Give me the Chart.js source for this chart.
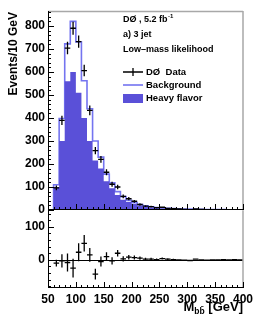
<!DOCTYPE html>
<html>
<head>
<meta charset="utf-8">
<script src="https://cdn.jsdelivr.net/npm/chart.js@4.4.1/dist/chart.umd.min.js"></script>
<style>
html, body { margin:0; padding:0; background:#fff; }
#wrap { position:relative; width:258px; height:327px; overflow:hidden; background:#fff; }
#top { position:absolute; left:0; top:0; }
#bot { position:absolute; left:0; top:200px; }
</style>
</head>
<body>
<div id="wrap">
<canvas id="top" width="258" height="226"></canvas>
<canvas id="bot" width="258" height="127"></canvas>
</div>
<script>
// bins of 10 GeV, centres
var binCenters = [55,65,75,85,95,105,115,125,135,145,155,165,175,185,195,205,215,225,235,245,255,265,275,285,295,305,315,325,335,345,355,365,375,385,395];
var background = [0,110,398,722,820,730,562,440,300,230,156,118,80,58,42,32,24,18,14,11,9,7,6,5,4,4,3,3,2,2,2,2,1,1,1];
var heavyFlavor = [0,100,300,560,600,510,400,300,215,180,125,95,65,45,35,26,20,15,11,9,7,6,5,4,3,3,2,2,2,1,1,1,1,1,1];
var dataCounts = [null,96,390,704,790,732,606,433,258,220,164,112,100,59,49,38,24,17,15,10,12,7,6,5,3,2,5,3,2,2,1,2,1,2,1];
var dataErrors = [0,10,20,27,28,27,25,21,16,15,13,11,10,8,7,6,5,4,4,3,3,3,2,2,2,1,2,2,1,1,1,1,1,1,1];
var residuals = [null,-10,-3,-8,-25,23,50,15,-43,-5,10,-3,20,3,8,7,5,2,2,1,4,2,1,0,-1,-2,2,0,-1,0,0,1,0,1,0];
var yTicksTop = [0,100,200,300,400,500,600,700,800];
var yTicksBottom = [0,100];
var xTicks = [50,100,150,200,250,300,350,400];
var binWidth = 10;

var fillColor = '#5a50d8';
var lineColor = '#7474f0';
var FONT = "'Liberation Sans', Arial, sans-serif";

function stepPoints(values) {
	var pts = [];
	for (var i = 0; i < binCenters.length; i++) {
		pts.push({x: binCenters[i] - binWidth / 2, y: values[i]});
	}
	var last = binCenters.length - 1;
	pts.push({x: binCenters[last] + binWidth / 2, y: values[last]});
	return pts;
}

function pointData(values) {
	var pts = [];
	for (var i = 0; i < binCenters.length; i++) {
		if (values[i] !== null) pts.push({x: binCenters[i], y: values[i]});
	}
	return pts;
}

function drawCrosses(chart, values, errors) {
	var ctx = chart.ctx, xs = chart.scales.x, ys = chart.scales.y, a = chart.chartArea;
	ctx.save();
	ctx.beginPath();
	ctx.rect(a.left, a.top, a.right - a.left, a.bottom - a.top);
	ctx.clip();
	ctx.strokeStyle = '#000';
	ctx.lineWidth = 1.3;
	for (var i = 0; i < binCenters.length; i++) {
		if (values[i] === null) continue;
		var x0 = xs.getPixelForValue(binCenters[i] - binWidth / 2);
		var x1 = xs.getPixelForValue(binCenters[i] + binWidth / 2);
		var xc = xs.getPixelForValue(binCenters[i]);
		var y = ys.getPixelForValue(values[i]);
		var ylo = ys.getPixelForValue(values[i] - errors[i]);
		var yhi = ys.getPixelForValue(values[i] + errors[i]);
		ctx.beginPath();
		ctx.moveTo(x0, y); ctx.lineTo(x1, y);
		ctx.moveTo(xc, ylo); ctx.lineTo(xc, yhi);
		ctx.stroke();
	}
	ctx.restore();
}

function drawFrame(chart, yMin, yMax, yMajor, drawTop) {
	var ctx = chart.ctx, xs = chart.scales.x, ys = chart.scales.y, a = chart.chartArea;
	ctx.save();
	// grey frame right (and top)
	ctx.strokeStyle = '#a8a8a8';
	ctx.lineWidth = 1.5;
	ctx.beginPath();
	ctx.moveTo(a.right, a.top); ctx.lineTo(a.right, a.bottom);
	if (drawTop) { ctx.moveTo(a.left, a.top + 0.5); ctx.lineTo(a.right, a.top + 0.5); }
	ctx.stroke();
	// black axes
	ctx.strokeStyle = '#000';
	ctx.lineWidth = 1;
	ctx.beginPath();
	ctx.moveTo(a.left + 0.5, a.top); ctx.lineTo(a.left + 0.5, a.bottom);
	ctx.moveTo(a.left, a.bottom - 0.5); ctx.lineTo(a.right, a.bottom - 0.5);
	// y ticks, inward
	for (var v = yMin; v <= yMax; v += 20) {
		var y = Math.round(ys.getPixelForValue(v)) + 0.5;
		var len = (yMajor.indexOf(v) >= 0) ? 6 : 3;
		ctx.moveTo(a.left, y); ctx.lineTo(a.left + len, y);
	}
	// x ticks, upward
	for (var xv = 50; xv <= 400; xv += 10) {
		var x = Math.round(xs.getPixelForValue(xv)) + 0.5;
		var l = (xTicks.indexOf(xv) >= 0) ? 6 : 3;
		ctx.moveTo(x, a.bottom); ctx.lineTo(x, a.bottom - l);
	}
	ctx.stroke();
	ctx.restore();
}

var topPlugin = {
	id: 'topPlugin',
	afterDatasetsDraw: function(chart) {
		drawCrosses(chart, dataCounts, dataErrors);
		drawFrame(chart, 0, 860, yTicksTop, true);
		var ctx = chart.ctx;
		ctx.save();
		ctx.fillStyle = '#000';
		ctx.textBaseline = 'middle';
		ctx.textAlign = 'left';
		// y title
		ctx.save();
		ctx.font = 'bold 12px ' + FONT;
		ctx.translate(14, 12);
		ctx.rotate(-Math.PI / 2);
		ctx.textAlign = 'right';
		ctx.fillText('Events/10 GeV', 0, 0);
		ctx.restore();
		// labels
		ctx.font = 'bold 9px ' + FONT;
		var t1 = 'D\u00d8 , 5.2 fb';
		ctx.fillText(t1, 123, 20);
		var w1 = ctx.measureText(t1).width;
		ctx.font = 'bold 6px ' + FONT;
		ctx.fillText('-1', 123 + w1 + 0.5, 16);
		ctx.font = 'bold 9px ' + FONT;
		ctx.fillText('a) 3 jet', 123, 35);
		ctx.fillText('Low\u2013mass likelihood', 123, 50);
		// legend
		ctx.font = 'bold 9.5px ' + FONT;
		ctx.fillText('D\u00d8  Data', 146, 72);
		ctx.fillText('Background', 146, 85);
		ctx.fillText('Heavy flavor', 146, 98);
		ctx.strokeStyle = '#000';
		ctx.lineWidth = 1.3;
		ctx.beginPath();
		ctx.moveTo(123, 72); ctx.lineTo(143, 72);
		ctx.moveTo(133, 68); ctx.lineTo(133, 76);
		ctx.stroke();
		ctx.strokeStyle = lineColor;
		ctx.lineWidth = 1.6;
		ctx.beginPath();
		ctx.moveTo(123, 85); ctx.lineTo(143, 85);
		ctx.stroke();
		ctx.fillStyle = fillColor;
		ctx.fillRect(123, 94, 20, 9);
		ctx.restore();
	}
};

var botPlugin = {
	id: 'botPlugin',
	beforeDatasetsDraw: function(chart) {
		var ctx = chart.ctx, ys = chart.scales.y, a = chart.chartArea;
		var y0 = Math.round(ys.getPixelForValue(0)) + 0.5;
		ctx.save();
		ctx.strokeStyle = '#000';
		ctx.lineWidth = 1;
		ctx.beginPath();
		ctx.moveTo(a.left, y0); ctx.lineTo(a.right, y0);
		ctx.stroke();
		ctx.restore();
	},
	afterDatasetsDraw: function(chart) {
		drawCrosses(chart, residuals, dataErrors);
		drawFrame(chart, -80, 140, yTicksBottom, false);
		var ctx = chart.ctx;
		ctx.save();
		ctx.fillStyle = '#000';
		ctx.textBaseline = 'alphabetic';
		var fBig = 'bold 13px ' + FONT, fSmall = 'bold 8.5px ' + FONT;
		ctx.font = fBig;
		var wM = ctx.measureText('M').width;
		var wR = ctx.measureText(' [GeV]').width;
		ctx.font = fSmall;
		var wS = ctx.measureText('bb\u0304').width;
		var x = 243 - (wM + wS + wR);
		var yb = 111;
		ctx.font = fBig;
		ctx.fillText('M', x, yb);
		ctx.font = fSmall;
		ctx.fillText('bb\u0304', x + wM, yb + 3);
		ctx.font = fBig;
		ctx.fillText(' [GeV]', x + wM + wS, yb);
		ctx.restore();
	}
};

var tickFont = {family: FONT, size: 12, weight: 'bold'};

new Chart(document.getElementById('top'), {
	type: 'line',
	data: {
		datasets: [
			{label: 'Heavy flavor', data: stepPoints(heavyFlavor), stepped: true, fill: 'origin',
			 backgroundColor: fillColor, borderColor: 'rgba(0,0,0,0)', borderWidth: 1, pointRadius: 0},
			{label: 'Background', data: stepPoints(background), stepped: true, fill: false,
			 borderColor: lineColor, borderWidth: 1.6, pointRadius: 0},
			{label: 'D\u00d8 Data', data: pointData(dataCounts), showLine: false, pointRadius: 0}
		]
	},
	options: {
		responsive: false,
		devicePixelRatio: 1,
		animation: false,
		events: [],
		layout: {padding: {top: 11, right: 15, bottom: 16, left: 0}},
		plugins: {legend: {display: false}, tooltip: {enabled: false}},
		scales: {
			x: {type: 'linear', min: 50, max: 400, display: false},
			y: {
				min: 0, max: 865,
				afterFit: function(s) { s.width = 48; },
				afterBuildTicks: function(s) { s.ticks = yTicksTop.map(function(v) { return {value: v}; }); },
				ticks: {font: tickFont, color: '#000', padding: 3},
				grid: {display: false, drawTicks: false},
				border: {display: false}
			}
		}
	},
	plugins: [topPlugin]
});

new Chart(document.getElementById('bot'), {
	type: 'line',
	data: {
		datasets: [
			{label: 'Data - Background', data: pointData(residuals), showLine: false, pointRadius: 0}
		]
	},
	options: {
		responsive: false,
		devicePixelRatio: 1,
		animation: false,
		events: [],
		layout: {padding: {top: 10, right: 15, bottom: 0, left: 0}},
		plugins: {legend: {display: false}, tooltip: {enabled: false}},
		scales: {
			x: {
				type: 'linear', min: 50, max: 400,
				afterFit: function(s) { s.height = 39; },
				afterBuildTicks: function(s) { s.ticks = xTicks.map(function(v) { return {value: v}; }); },
				ticks: {font: tickFont, color: '#000', padding: 4, autoSkip: false, maxRotation: 0},
				grid: {display: false, drawTicks: false},
				border: {display: false}
			},
			y: {
				min: -85, max: 150,
				afterFit: function(s) { s.width = 48; },
				afterBuildTicks: function(s) { s.ticks = yTicksBottom.map(function(v) { return {value: v}; }); },
				ticks: {font: tickFont, color: '#000', padding: 3},
				grid: {display: false, drawTicks: false},
				border: {display: false}
			}
		}
	},
	plugins: [botPlugin]
});
</script>
</body>
</html>
